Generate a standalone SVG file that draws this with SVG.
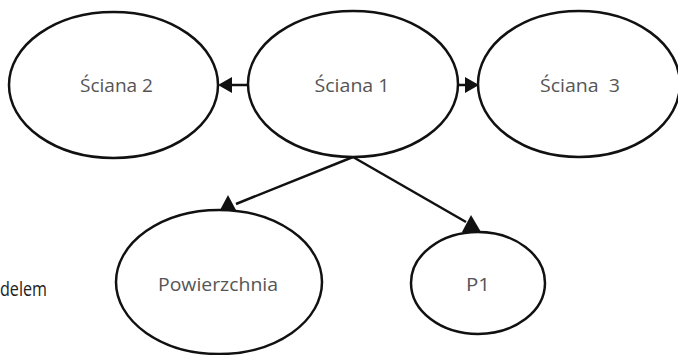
<svg xmlns="http://www.w3.org/2000/svg" width="678" height="355" viewBox="0 0 678 355">
<style>
.n{fill:#fff;stroke:#111;stroke-width:2.5}
.t{font-family:"Open Sans","Noto Sans",sans-serif;font-size:19px;fill:#555;text-anchor:middle;white-space:pre}
.c{stroke:#111;stroke-width:2.5;fill:none}
.h{fill:#111}
</style>
<rect width="678" height="355" fill="#fff"/>
<g id="connectors">
<line class="c" x1="248" y1="85" x2="228" y2="85"/>
<polygon class="h" points="218,85 232,77 232,93"/>
<line class="c" x1="458" y1="85" x2="466" y2="85"/>
<polygon class="h" points="479,85 465,77 465,93"/>
<line class="c" x1="353" y1="157" x2="236" y2="204"/>
<polygon class="h" points="228,195 219,212 237,212"/>
<line class="c" x1="353" y1="157" x2="466" y2="222"/>
<polygon class="h" points="471,215 462,232 481,232"/>
</g>
<g id="sciana2"><ellipse class="n" cx="113.5" cy="85" rx="104.5" ry="73"/><text class="t" x="116.5" y="92" textLength="73" lengthAdjust="spacingAndGlyphs">Ściana 2</text></g>
<g id="sciana1"><ellipse class="n" cx="353" cy="84" rx="105" ry="73"/><text class="t" x="352" y="92" textLength="75" lengthAdjust="spacingAndGlyphs">Ściana 1</text></g>
<g id="sciana3"><ellipse class="n" cx="579" cy="84" rx="101" ry="73"/><text class="t" x="580" y="92" textLength="80" lengthAdjust="spacingAndGlyphs" xml:space="preserve">Ściana  3</text></g>
<g id="powierzchnia"><ellipse class="n" cx="219" cy="282" rx="103" ry="72"/><text class="t" x="218" y="291" textLength="120" lengthAdjust="spacingAndGlyphs">Powierzchnia</text></g>
<g id="p1"><ellipse class="n" cx="478" cy="283" rx="67" ry="51"/><text class="t" x="478" y="291" textLength="24" lengthAdjust="spacingAndGlyphs">P1</text></g>
<text x="0" y="296" textLength="47" lengthAdjust="spacingAndGlyphs" style="font-family:'Open Sans','Noto Sans',sans-serif;font-size:20px;fill:#222">delem</text>
</svg>
